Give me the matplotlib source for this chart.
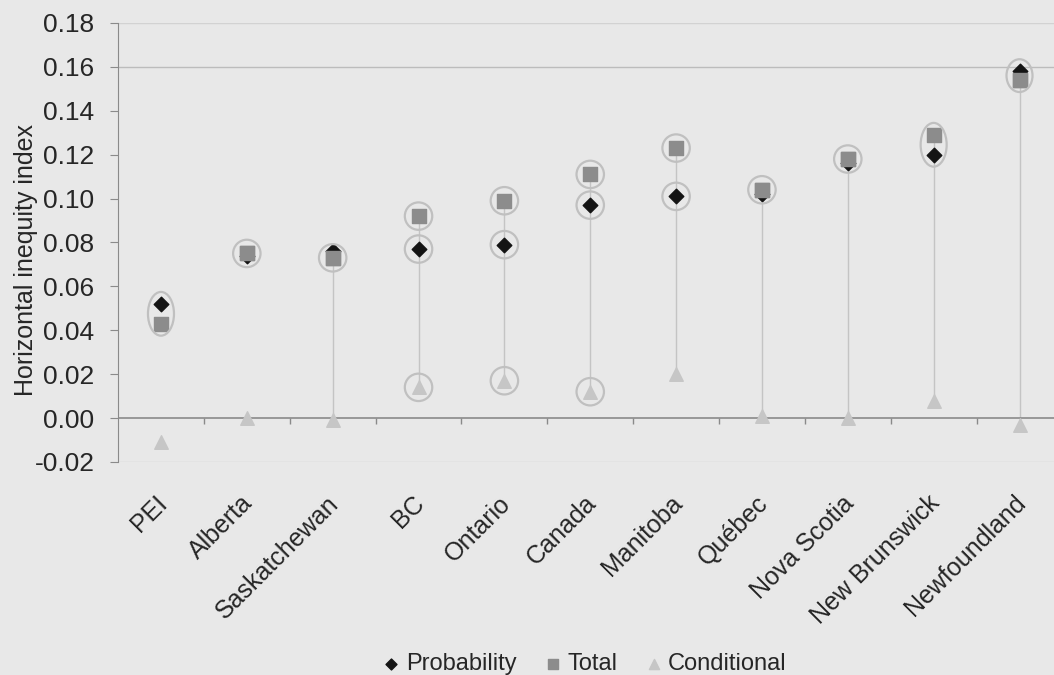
import matplotlib
matplotlib.use("Agg")
import matplotlib.pyplot as plt
import matplotlib.transforms as mtransforms
from matplotlib.patches import Ellipse
import numpy as np

provinces = ["PEI", "Alberta", "Saskatchewan", "BC", "Ontario", "Canada",
             "Manitoba", "Québec", "Nova Scotia", "New Brunswick", "Newfoundland"]
probability = [0.052, 0.074, 0.076, 0.077, 0.079, 0.097, 0.101, 0.102, 0.116, 0.120, 0.158]
total = [0.043, 0.075, 0.073, 0.092, 0.099, 0.111, 0.123, 0.104, 0.118, 0.129, 0.154]
conditional = [-0.011, 0.000, -0.001, 0.014, 0.017, 0.012, 0.020, 0.001, 0.000, 0.008, -0.003]
# which markers are circled in the original (series, province index)
circled_single = [("total", 1), ("total", 2), ("total", 3), ("probability", 3), ("conditional", 3),
                  ("total", 4), ("probability", 4), ("conditional", 4),
                  ("total", 5), ("probability", 5), ("conditional", 5),
                  ("total", 6), ("probability", 6), ("total", 7), ("total", 8)]
circled_pair = [0, 9, 10]  # ellipse around probability + total
yticks = [-0.02, 0.00, 0.02, 0.04, 0.06, 0.08, 0.10, 0.12, 0.14, 0.16, 0.18]

bg = "#e8e8e8"
txt = "#262626"
plt.rcParams["font.family"] = ["Liberation Sans", "DejaVu Sans"]
fig = plt.figure(figsize=(10.54, 6.75), dpi=100, facecolor=bg)
ax = fig.add_axes([0.112, 0.3156, 0.896, 0.6504])
ax.set_facecolor(bg)
n = len(provinces)
x = np.arange(n)
ax.set_xlim(-0.5, n - 0.5)
ax.set_ylim(-0.02, 0.18)

# gridlines that survive in the scan
for g in (0.18, 0.16, -0.02):
    ax.axhline(g, color="#d2d2d2" if g != 0.16 else "#bcbcbc", lw=1.0, zorder=0)

# high-low lines
series = {"probability": probability, "total": total, "conditional": conditional}
for i in range(2, n):
    top = max(probability[i], total[i])
    ax.vlines(i, conditional[i], top, color="#c4c4c4", lw=1.0, zorder=1)

# x axis at zero
ax.axhline(0, color="#8a8a8a", lw=1.2, zorder=2)
ax.vlines(np.arange(n - 1) + 0.5, -0.0028, 0, color="#8a8a8a", lw=1.0, zorder=2)

ax.scatter(x, conditional, marker="^", s=95, color="#c6c6c6", zorder=3, label="Conditional")
ax.scatter(x, total, marker="s", s=95, color="#8c8c8c", zorder=4, label="Total")
ax.scatter(x, probability, marker="D", s=55, color="#141414", zorder=5, label="Probability")
# total drawn over probability where they nearly coincide (as in original)
for i in (1, 2, 7, 8, 10):
    ax.scatter([x[i]], [total[i]], marker="s", s=95, color="#8c8c8c", zorder=6)

# annotation circles
for s_name, i in circled_single:
    ax.scatter([x[i]], [series[s_name][i]], marker="o", s=390, facecolor="none",
               edgecolor="#c0c0c0", linewidth=1.6, zorder=7)
ppd = 43.9 / 0.02
for i in circled_pair:
    cy = (probability[i] + total[i]) / 2
    h = (abs(probability[i] - total[i]) * ppd + 24) / ppd
    w = 26 / 85.8
    ax.add_patch(Ellipse((x[i], cy), w, h, facecolor="none", edgecolor="#c0c0c0",
                         linewidth=1.6, zorder=7))

ax.set_yticks(yticks)
ax.set_yticklabels([f"{v:.2f}" for v in yticks], fontsize=19, color=txt)
ax.tick_params(axis="y", direction="out", length=6, color="#8a8a8a", pad=11)
ax.set_xticks(x)
ax.set_xticklabels(provinces, rotation=45, ha="right", va="top", rotation_mode="anchor",
                   fontsize=18, color=txt)
ax.tick_params(axis="x", length=0, pad=21)
offset = mtransforms.ScaledTranslation(-6 / 100, 0, fig.dpi_scale_trans)
for lab in ax.get_xticklabels():
    lab.set_transform(lab.get_transform() + offset)

for sp in ("top", "right", "bottom"):
    ax.spines[sp].set_visible(False)
ax.spines["left"].set_color("#8a8a8a")
ax.set_ylabel("Horizontal inequity index", fontsize=18, color=txt)
ax.yaxis.set_label_coords(-0.085, 0.46)

handles, labels = ax.get_legend_handles_labels()
order = [2, 1, 0]
leg = fig.legend([handles[k] for k in order], [labels[k] for k in order],
                 loc="lower left", bbox_to_anchor=(0.3535, -0.018), ncol=3, frameon=False,
                 fontsize=17, handlelength=0.6, handletextpad=0.3, columnspacing=1.25,
                 borderpad=0, markerscale=0.75)
for t in leg.get_texts():
    t.set_color(txt)

fig.savefig("out.png", dpi=100, facecolor=bg)
